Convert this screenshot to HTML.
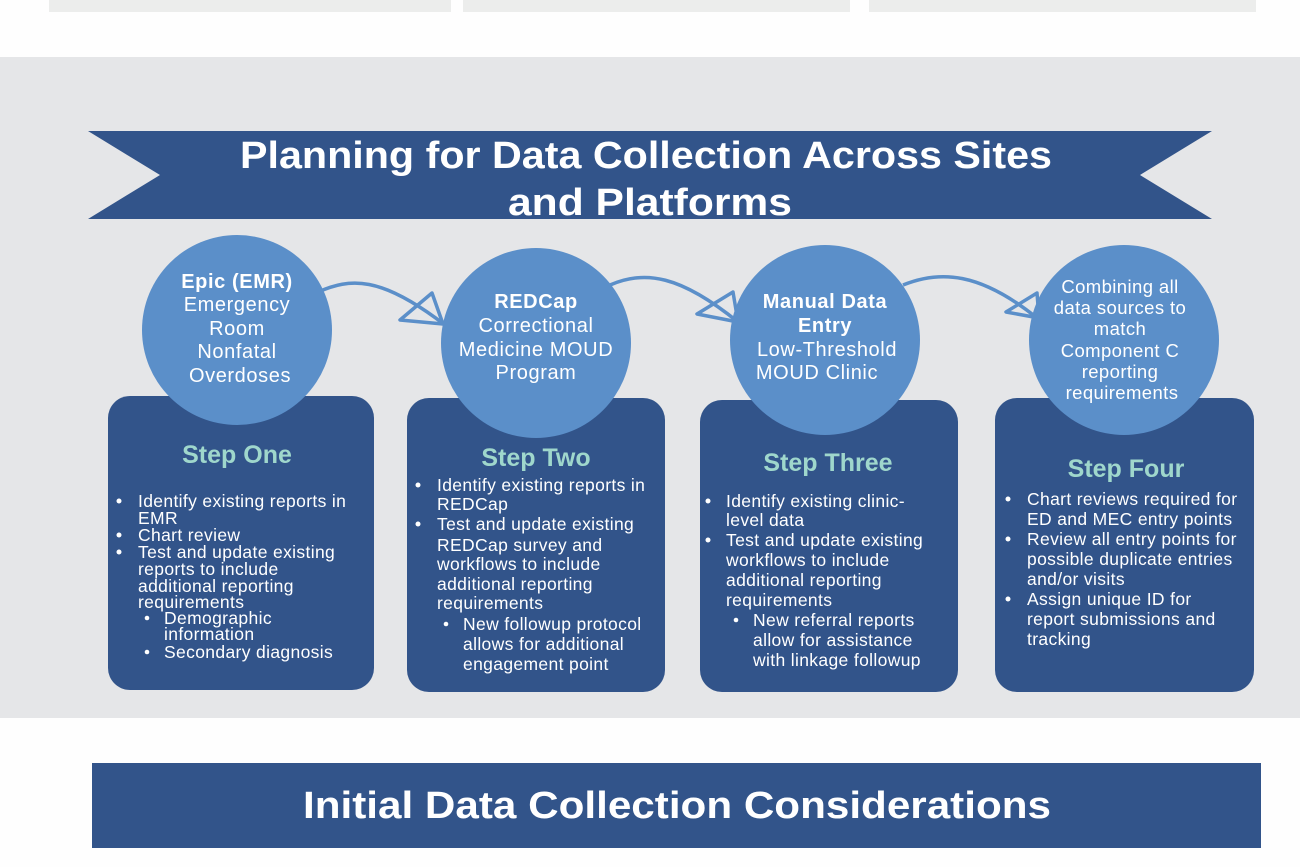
<!DOCTYPE html>
<html><head><meta charset="utf-8"><style>
html,body{margin:0;padding:0;background:#fff;}
svg{display:block;font-family:"Liberation Sans",sans-serif;}
</style></head><body>
<svg width="1300" height="867" viewBox="0 0 1300 867" xmlns="http://www.w3.org/2000/svg">
<rect x="0" y="0" width="1300" height="867" fill="#fefefe"/>
<rect x="49" y="0" width="402" height="12" fill="#ecedec"/>
<rect x="463" y="0" width="387" height="12" fill="#ecedec"/>
<rect x="869" y="0" width="387" height="12" fill="#ecedec"/>
<rect x="0" y="57" width="1300" height="661" fill="#e5e6e8"/>
<polygon points="88,131 1212,131 1140,175 1212,219 88,219 160,175" fill="#32548a"/>
<g fill="#fff" font-weight="bold" font-size="38">
<text x="240" y="168" textLength="812" lengthAdjust="spacingAndGlyphs">Planning for Data Collection Across Sites</text>
<text x="508" y="215" textLength="284" lengthAdjust="spacingAndGlyphs">and Platforms</text>
</g>
<g fill="#32548a">
<rect x="108" y="396" width="266" height="294" rx="22"/>
<rect x="407" y="398" width="258" height="294" rx="22"/>
<rect x="700" y="400" width="258" height="292" rx="22"/>
<rect x="995" y="398" width="259" height="294" rx="22"/>
</g>
<g fill="none" stroke="#5b8fc9" stroke-width="3.5" stroke-linejoin="round">
<path d="M318,292 C350,278 380,275 445,325"/>
<polygon points="400,320 443,324 432,293"/>
<path d="M610,285 C645,270 680,275 738,322"/>
<polygon points="697,314 738,322 733,292"/>
<path d="M903,285 C940,270 980,272 1037,318"/>
<polygon points="1006,312 1039,318 1037,293"/>
</g>
<g fill="#5b8fc9">
<circle cx="237" cy="330" r="95"/>
<circle cx="536" cy="343" r="95"/>
<circle cx="825" cy="340" r="95"/>
<circle cx="1124" cy="340" r="95"/>
</g>
<g fill="#fff" text-anchor="middle" font-size="20" letter-spacing="0.6">
<text x="237" y="288" font-weight="bold">Epic (EMR)</text>
<text x="237" y="311">Emergency</text>
<text x="237" y="335">Room</text>
<text x="237" y="358">Nonfatal</text>
<text x="240" y="382">Overdoses</text>
<text x="536" y="308" font-weight="bold">REDCap</text>
<text x="536" y="332">Correctional</text>
<text x="536" y="356">Medicine MOUD</text>
<text x="536" y="379">Program</text>
<text x="825" y="308" font-weight="bold">Manual Data</text>
<text x="825" y="332" font-weight="bold">Entry</text>
<text x="827" y="356">Low-Threshold</text>
<text x="817" y="379">MOUD Clinic</text>
<g font-size="18.5" letter-spacing="0.4">
<text x="1120" y="293">Combining all</text>
<text x="1120" y="314">data sources to</text>
<text x="1120" y="335">match</text>
<text x="1120" y="357">Component C</text>
<text x="1120" y="378">reporting</text>
<text x="1122" y="399">requirements</text>
</g>
</g>
<g fill="#9fd7cc" font-weight="bold" font-size="25" text-anchor="middle">
<text x="237" y="463">Step One</text>
<text x="536" y="466">Step Two</text>
<text x="828" y="471">Step Three</text>
<text x="1126" y="477">Step Four</text>
</g>
<g fill="#fff" font-size="17.5" letter-spacing="0.35">
<g>
<circle cx="119" cy="501" r="2.5"/><circle cx="119" cy="535" r="2.5"/><circle cx="119" cy="552" r="2.5"/>
<circle cx="147" cy="618" r="2.3"/><circle cx="147" cy="652" r="2.3"/>
<text x="138" y="507">Identify existing reports in</text>
<text x="138" y="524">EMR</text>
<text x="138" y="541">Chart review</text>
<text x="138" y="558">Test and update existing</text>
<text x="138" y="575">reports to include</text>
<text x="138" y="592">additional reporting</text>
<text x="138" y="608">requirements</text>
<text x="164" y="624">Demographic</text>
<text x="164" y="640">information</text>
<text x="164" y="658">Secondary diagnosis</text>
</g>
<g>
<circle cx="418" cy="485" r="2.5"/><circle cx="418" cy="524" r="2.5"/><circle cx="446" cy="624" r="2.3"/>
<text x="437" y="491">Identify existing reports in</text>
<text x="437" y="510">REDCap</text>
<text x="437" y="530">Test and update existing</text>
<text x="437" y="551">REDCap survey and</text>
<text x="437" y="570">workflows to include</text>
<text x="437" y="590">additional reporting</text>
<text x="437" y="609">requirements</text>
<text x="463" y="630">New followup protocol</text>
<text x="463" y="650">allows for additional</text>
<text x="463" y="670">engagement point</text>
</g>
<g>
<circle cx="708" cy="501" r="2.5"/><circle cx="708" cy="540" r="2.5"/><circle cx="736" cy="620" r="2.3"/>
<text x="726" y="507">Identify existing clinic-</text>
<text x="726" y="526">level data</text>
<text x="726" y="546">Test and update existing</text>
<text x="726" y="566">workflows to include</text>
<text x="726" y="586">additional reporting</text>
<text x="726" y="606">requirements</text>
<text x="753" y="626">New referral reports</text>
<text x="753" y="646">allow for assistance</text>
<text x="753" y="666">with linkage followup</text>
</g>
<g>
<circle cx="1008" cy="499" r="2.5"/><circle cx="1008" cy="539" r="2.5"/><circle cx="1008" cy="599" r="2.5"/>
<text x="1027" y="505">Chart reviews required for</text>
<text x="1027" y="525">ED and MEC entry points</text>
<text x="1027" y="545">Review all entry points for</text>
<text x="1027" y="565">possible duplicate entries</text>
<text x="1027" y="585">and/or visits</text>
<text x="1027" y="605">Assign unique ID for</text>
<text x="1027" y="625">report submissions and</text>
<text x="1027" y="645">tracking</text>
</g>
</g>
<rect x="92" y="763" width="1169" height="85" fill="#32548a"/>
<text x="303" y="818" fill="#fff" font-weight="bold" font-size="38" textLength="748" lengthAdjust="spacingAndGlyphs">Initial Data Collection Considerations</text>
</svg>
</body></html>
